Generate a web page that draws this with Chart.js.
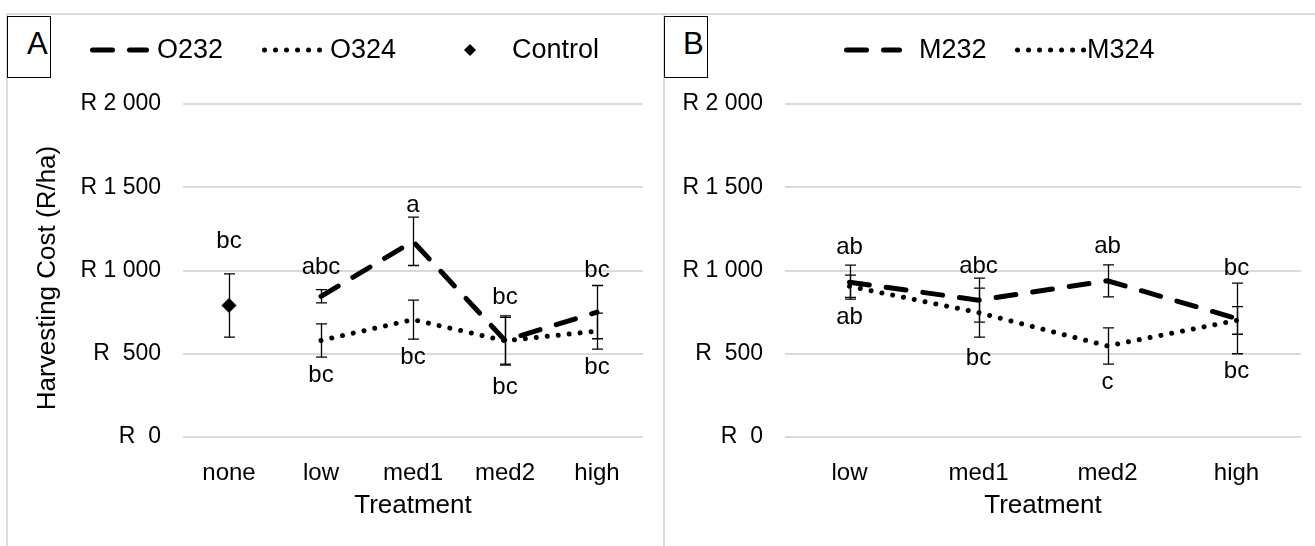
<!DOCTYPE html>
<html><head><meta charset="utf-8">
<script src="https://cdn.jsdelivr.net/npm/chart.js@4.4.1/dist/chart.umd.min.js"></script>
<style>
html,body{margin:0;padding:0;background:#fff;}
#wrap{position:relative;width:1315px;height:546px;overflow:hidden;font-family:"Liberation Sans",Arial,sans-serif;}
.hl{position:absolute;background:#dcdcdc;}
.tag{position:absolute;border:1px solid #000;box-sizing:border-box;background:#fff;color:#000;}
.tag span{position:absolute;font-size:31px;line-height:1;}
canvas{position:absolute;}
</style></head><body>
<div id="wrap">
<div class="hl" style="left:6px;top:13px;width:1309px;height:2px"></div>
<div class="hl" style="left:6px;top:13px;width:2px;height:533px"></div>
<div class="hl" style="left:663px;top:13px;width:2px;height:533px"></div>
<canvas id="cA" width="655" height="531" style="left:8px;top:15px;width:655px;height:531px"></canvas>
<canvas id="cB" width="650" height="531" style="left:665px;top:15px;width:650px;height:531px"></canvas>
<div class="tag" style="left:7px;top:16px;width:44px;height:62px;"><span style="left:19px;top:11px">A</span></div>
<div class="tag" style="left:664px;top:16px;width:44px;height:62px;"><span style="left:18px;top:11px">B</span></div>
</div>
<script>
// ---------- data ----------
const categoriesA = ['none', 'low', 'med1', 'med2', 'high'];
const o232 = [null, 845, 1175, 580, 750];
const o232Err = [null, 40, 145, 148, 160];
const o324 = [null, 580, 705, 578, 636];
const o324Err = [null, 100, 117, 140, 108];
const control = [790, null, null, null, null];
const controlErr = [190, null, null, null, null];
const lettersAboveA = ['bc', 'abc', 'a', 'bc', 'bc'];
const lettersBelowA = [null, 'bc', 'bc', 'bc', 'bc'];

const categoriesB = ['low', 'med1', 'med2', 'high'];
const m232 = [930, 822, 938, 712];
const m232Err = [102, 132, 96, 212];
const m324 = [905, 747, 547, 700];
const m324Err = [67, 147, 109, 83];
const lettersAboveB = ['ab', 'abc', 'ab', 'bc'];
const lettersBelowB = ['ab', 'bc', 'c', 'bc'];

const yTickValues = [0, 500, 1000, 1500, 2000];
const yTickLabels = ['R  0', 'R  500', 'R 1 000', 'R 1 500', 'R 2 000'];

// ---------- styles ----------
const FONT = "'Liberation Sans', Arial, sans-serif";
const DASH = [20, 17];
const DOT = [0.01, 11];

const errPlugin = {
  id: 'errbars',
  afterDatasetsDraw(chart, args, o) {
    const ctx = chart.ctx, ys = chart.scales.y;
    const n = chart.data.labels.length;
    const tops = new Array(n).fill(Infinity), bots = new Array(n).fill(-Infinity), xs = new Array(n);
    ctx.save();
    chart.data.datasets.forEach((ds, i) => {
      const meta = chart.getDatasetMeta(i);
      if (!ds.errors) return;
      ds.errors.forEach((e, j) => {
        const v = ds.data[j];
        if (v == null || e == null) return;
        const x = Math.round(meta.data[j].x) + 0.5;
        const yt = ys.getPixelForValue(v + e), yb = ys.getPixelForValue(v - e);
        tops[j] = Math.min(tops[j], yt); bots[j] = Math.max(bots[j], yb); xs[j] = meta.data[j].x;
        ctx.strokeStyle = '#000'; ctx.lineWidth = 1.3; ctx.setLineDash([]);
        ctx.beginPath();
        ctx.moveTo(x, yt); ctx.lineTo(x, yb);
        ctx.moveTo(x - 5.5, yt); ctx.lineTo(x + 5.5, yt);
        ctx.moveTo(x - 5.5, yb); ctx.lineTo(x + 5.5, yb);
        ctx.stroke();
      });
    });
    // significance letters above highest / below lowest error bar end
    ctx.fillStyle = '#000';
    ctx.font = '24px ' + FONT;
    ctx.textAlign = 'center'; ctx.textBaseline = 'middle';
    const nudgeA = o.nudgeAbove || [], nudgeB = o.nudgeBelow || [];
    (o.above || []).forEach((t, j) => {
      if (t && xs[j] != null) ctx.fillText(t, xs[j], tops[j] - 18 + (nudgeA[j] || 0));
    });
    (o.below || []).forEach((t, j) => {
      if (t && xs[j] != null) ctx.fillText(t, xs[j], bots[j] + 18 + (nudgeB[j] || 0));
    });
    ctx.restore();
  }
};

const decoPlugin = {
  id: 'deco',
  afterDraw(chart, args, o) {
    const ctx = chart.ctx, ca = chart.chartArea;
    ctx.save();
    ctx.fillStyle = '#000';
    ctx.font = '26px ' + FONT;
    ctx.textAlign = 'center'; ctx.textBaseline = 'alphabetic';
    ctx.fillText('Treatment', (ca.left + ca.right) / 2, o.xTitleBase);
    if (o.yTitle) {
      ctx.save();
      ctx.translate(o.yTitleX, o.yTitleY);
      ctx.rotate(-Math.PI / 2);
      ctx.fillText(o.yTitle, 0, 0);
      ctx.restore();
    }
    ctx.font = '27px ' + FONT;
    ctx.textAlign = 'left'; ctx.textBaseline = 'middle';
    o.legend.forEach(it => {
      ctx.strokeStyle = '#000'; ctx.fillStyle = '#000';
      if (it.kind === 'dash' || it.kind === 'dot') {
        ctx.lineWidth = 5; ctx.lineCap = 'round';
        ctx.setLineDash(it.kind === 'dash' ? DASH : DOT);
        ctx.beginPath(); ctx.moveTo(it.x0 + 2.5, o.legendY); ctx.lineTo(it.x1 - 2.5, o.legendY); ctx.stroke();
        ctx.setLineDash([]);
      } else if (it.kind === 'diamond') {
        const cx = it.x0, cy = o.legendY, r = 6;
        ctx.beginPath(); ctx.moveTo(cx, cy - r); ctx.lineTo(cx + r, cy); ctx.lineTo(cx, cy + r); ctx.lineTo(cx - r, cy); ctx.closePath(); ctx.fill();
      }
      ctx.fillText(it.text, it.tx, o.legendY + 1);
    });
    ctx.restore();
  }
};

function yScale(pad, width) {
  return {
    min: 0, max: 2000,
    afterBuildTicks: s => { s.ticks = yTickValues.map(v => ({ value: v })); },
    afterFit: s => { s.width = width; },
    grid: { color: '#d9d9d9', lineWidth: 2, drawTicks: false },
    border: { display: false },
    ticks: {
      padding: pad, color: '#000', font: { family: FONT, size: 23 },
      callback: (v) => yTickLabels[yTickValues.indexOf(v)]
    }
  };
}
function xScale() {
  return {
    offset: true,
    afterFit: s => { s.height = 109; },
    grid: { display: false, drawTicks: false },
    border: { display: false },
    ticks: { padding: 22, color: '#000', font: { family: FONT, size: 24 }, maxRotation: 0, autoSkip: false }
  };
}

Chart.defaults.font.family = FONT;

new Chart(document.getElementById('cA'), {
  type: 'line',
  data: {
    labels: categoriesA,
    datasets: [
      { label: 'O232', data: o232, errors: o232Err,
        borderColor: '#000', borderWidth: 5, borderDash: DASH, borderCapStyle: 'round', pointRadius: 0, tension: 0, fill: false },
      { label: 'O324', data: o324, errors: o324Err,
        borderColor: '#000', borderWidth: 5, borderDash: DOT, borderCapStyle: 'round', pointRadius: 0, tension: 0, fill: false },
      { label: 'Control', data: control, errors: controlErr, showLine: false,
        pointStyle: 'rectRot', pointRadius: 7, pointBackgroundColor: '#000', pointBorderColor: '#000', borderColor: '#000' }
    ]
  },
  options: {
    responsive: false, animation: false, devicePixelRatio: 1,
    layout: { padding: { left: 0, right: 20, top: 89, bottom: 0 } },
    scales: { x: xScale(), y: yScale(22, 175) },
    plugins: {
      legend: { display: false }, tooltip: { enabled: false },
      errbars: { above: lettersAboveA, below: lettersBelowA, nudgeAbove: [-14, -4, 6, 0, 3], nudgeBelow: [0, 0, 0, 4, 0] },
      deco: {
        xTitleBase: 498, yTitle: 'Harvesting Cost (R/ha)', yTitleX: 47, yTitleY: 263,
        legendY: 35,
        legend: [
          { kind: 'dash', x0: 82, x1: 141, text: 'O232', tx: 149 },
          { kind: 'dot', x0: 254, x1: 322, text: 'O324', tx: 322 },
          { kind: 'diamond', x0: 462, text: 'Control', tx: 504 }
        ]
      }
    }
  },
  plugins: [errPlugin, decoPlugin]
});

new Chart(document.getElementById('cB'), {
  type: 'line',
  data: {
    labels: categoriesB,
    datasets: [
      { label: 'M232', data: m232, errors: m232Err,
        borderColor: '#000', borderWidth: 5, borderDash: DASH, borderCapStyle: 'round', pointRadius: 0, tension: 0, fill: false },
      { label: 'M324', data: m324, errors: m324Err,
        borderColor: '#000', borderWidth: 5, borderDash: DOT, borderCapStyle: 'round', pointRadius: 0, tension: 0, fill: false }
    ]
  },
  options: {
    responsive: false, animation: false, devicePixelRatio: 1,
    layout: { padding: { left: 0, right: 14, top: 89, bottom: 0 } },
    scales: { x: xScale(), y: yScale(22, 120) },
    plugins: {
      legend: { display: false }, tooltip: { enabled: false },
      errbars: { above: lettersAboveB, below: lettersBelowB, nudgeAbove: [0, 6, 0, 3], nudgeBelow: [0, 3, 0, 0] },
      deco: {
        xTitleBase: 498,
        legendY: 35,
        legend: [
          { kind: 'dash', x0: 179, x1: 237, text: 'M232', tx: 254 },
          { kind: 'dot', x0: 350, x1: 422, text: 'M324', tx: 422 }
        ]
      }
    }
  },
  plugins: [errPlugin, decoPlugin]
});
</script>
</body></html>
